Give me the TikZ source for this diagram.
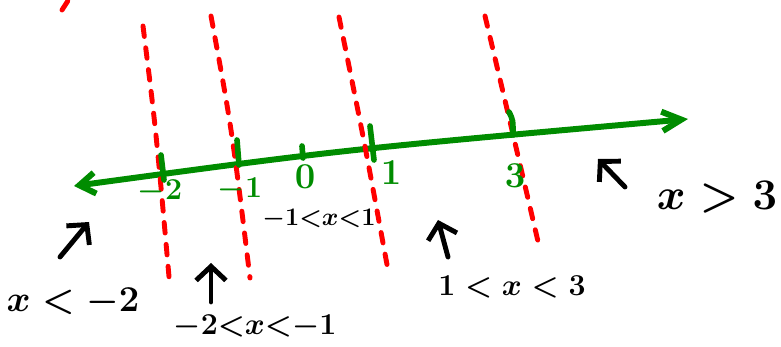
\documentclass[tikz,border=0pt]{standalone}
\usepackage{amsmath}
\usetikzlibrary{arrows.meta}

\definecolor{axisgreen}{RGB}{0,140,0}

\begin{document}
\begin{tikzpicture}[
    x=0.02cm, y=-0.02cm,
    axis/.style={draw=axisgreen, line width=3.4pt, line cap=round, line join=round},
    tickmark/.style={draw=axisgreen, line width=3.2pt, line cap=round},
    bound/.style={draw=red, line width=2.8pt, line cap=round, dash pattern=on 6pt off 6.5pt},
    pointer/.style={-{Straight Barb[length=8pt, width=17pt]}, line width=2.8pt, line cap=round, line join=round},
    num/.style={text=axisgreen, inner sep=0pt, font=\fontsize{#1}{#1}\selectfont\boldmath},
    region/.style={inner sep=0pt, font=\fontsize{#1}{#1}\selectfont\boldmath}
]
\useasboundingbox (0,0) rectangle (781,347);

% number line
\coordinate (axL) at (74,186);
\coordinate (axR) at (688,119);
\draw[axis, {Straight Barb[length=9pt, width=12pt]}-{Straight Barb[length=11pt, width=11pt]}]
    (axL) .. controls (340,150) .. (axR);

% boundaries
\draw[bound] (143,26) .. controls (156,130) .. (170,288);
\draw[bound] (211,16) .. controls (232,130) .. (250,278);
\draw[bound] (339,17) .. controls (364,140) .. (388,270);
\draw[bound] (485,16) .. controls (512,130) .. (540,250);
\draw[bound] (62,10) -- (71,-4);

% ticks
\draw[tickmark] (161,155) -- (164,180);
\draw[tickmark] (237,140) -- (239,165);
\draw[tickmark] (302,146) -- (303,158);
\draw[tickmark] (370,126) -- (374,160);
\draw[tickmark] (509,112) .. controls (513,120) .. (513,135);

\node[num=17] (nm2) at (160,192) {$-2$};
\node[num=17] (nm1) at (240,190) {$-1$};
\node[num=21] (n0) at (305,177) {$0$};
\node[num=21] (n1) at (391,173) {$1$};
\node[num=21] (n3) at (515,176) {$3$};

% regions
\node[region=22] (rA) at (73,302) {$x<-2$};
\node[region=19] (rB) at (255,327) {$-2{<}x{<}{-1}$};
\node[region=15] (rC) at (319,219) {$-1{<}x{<}1$};
\node[region=19] (rD) at (512,287) {$1<x<3$};
\node[region=29] (rE) at (717,197) {$x>3$};

\coordinate (tailA) at (60,257);
\coordinate (tipA) at (89,222);
\coordinate (tailB) at (211,302);
\coordinate (tipB) at (211,263);
\coordinate (tailD) at (448,257);
\coordinate (tipD) at (438,220);
\coordinate (tailE) at (625,187);
\coordinate (tipE) at (598,159);

\draw[pointer] (tailA) -- (tipA);
\draw[pointer] (tailB) -- (tipB);
\draw[pointer] (tailD) -- (tipD);
\draw[pointer] (tailE) -- (tipE);

\end{tikzpicture}
\end{document}
